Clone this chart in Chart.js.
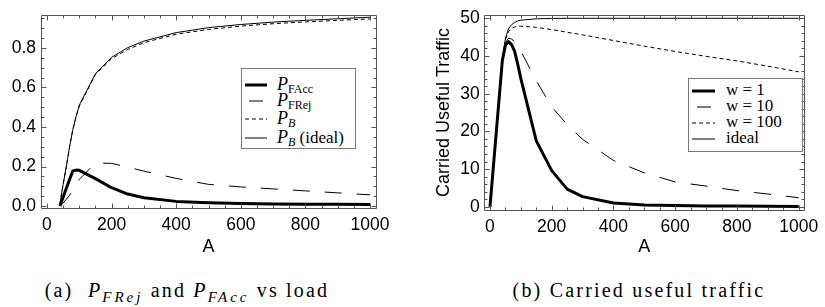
<!DOCTYPE html>
<html><head><meta charset="utf-8">
<script src="https://cdn.jsdelivr.net/npm/chart.js@4/dist/chart.umd.min.js"></script>
<style>
html,body{margin:0;padding:0;background:#fff;width:825px;height:307px;overflow:hidden;}
canvas{position:absolute;top:0;}
.legend{position:absolute;border:1.5px solid #7a7a7a;background:#fff;box-sizing:border-box;font-family:"Liberation Serif",serif;color:#000;}
.row{position:absolute;left:0;height:16px;width:110px;}
.row svg{position:absolute;top:5px;}
.row .lab{position:absolute;top:-1px;font-size:17px;line-height:16px;white-space:nowrap;}
.row .lab i.P{font-size:18px;}
.row .lab sub{font-size:12px;vertical-align:-3px;line-height:0;}
.cap{position:absolute;top:277px;font-family:"Liberation Serif",serif;font-size:20px;line-height:26px;white-space:nowrap;color:#000;text-align:center;letter-spacing:2.2px;}
.cap sub{font-size:15px;vertical-align:-5px;line-height:0;letter-spacing:3px;}
</style></head>
<body>
<canvas id="c1" width="412" height="262" style="left:0"></canvas>
<canvas id="c2" width="413" height="262" style="left:412px"></canvas>

<div class="legend" style="left:241px;top:68px;width:115px;height:81px;">
  <div class="row" style="top:8px"><svg width="24" height="6" style="left:3px"><line x1="0" y1="3" x2="22" y2="3" stroke="#000" stroke-width="3"/></svg><span class="lab" style="left:35px"><i class="P">P</i><sub>FAcc</sub></span></div>
  <div class="row" style="top:24px"><svg width="24" height="6" style="left:3px"><line x1="4" y1="3" x2="18" y2="3" stroke="#000" stroke-width="1"/></svg><span class="lab" style="left:35px"><i class="P">P</i><sub>FRej</sub></span></div>
  <div class="row" style="top:42px"><svg width="24" height="6" style="left:3px"><line x1="0" y1="3" x2="22" y2="3" stroke="#000" stroke-width="1" stroke-dasharray="4,3"/></svg><span class="lab" style="left:35px"><i class="P">P</i><sub><i>B</i></sub></span></div>
  <div class="row" style="top:61px"><svg width="24" height="6" style="left:3px"><line x1="0" y1="3" x2="22" y2="3" stroke="#000" stroke-width="1"/></svg><span class="lab" style="left:35px"><i class="P">P</i><sub><i>B</i></sub> (ideal)</span></div>
</div>

<div class="legend" style="left:688px;top:78px;width:115px;height:74px;">
  <div class="row" style="top:4px"><svg width="24" height="6" style="left:3px"><line x1="0" y1="3" x2="23" y2="3" stroke="#000" stroke-width="3"/></svg><span class="lab" style="left:37px">w = 1</span></div>
  <div class="row" style="top:20px"><svg width="24" height="6" style="left:3px"><line x1="5" y1="3" x2="19" y2="3" stroke="#000" stroke-width="1"/></svg><span class="lab" style="left:37px">w = 10</span></div>
  <div class="row" style="top:36px"><svg width="24" height="6" style="left:3px"><line x1="0" y1="3" x2="23" y2="3" stroke="#000" stroke-width="1" stroke-dasharray="4,3"/></svg><span class="lab" style="left:37px">w = 100</span></div>
  <div class="row" style="top:52px"><svg width="24" height="6" style="left:3px"><line x1="0" y1="3" x2="23" y2="3" stroke="#000" stroke-width="1"/></svg><span class="lab" style="left:37px">ideal</span></div>
</div>

<div class="cap" style="left:0;width:374px;">(a)&nbsp; <i>P</i><sub><i>FRej</i></sub> and <i>P</i><sub><i>FAcc</i></sub> vs load</div>
<div class="cap" style="left:508px;width:262px;">(b) Carried useful traffic</div>

<script>
// ---- data ----
const loadLeft = [40, 50, 60, 70, 80, 90, 100, 150, 200, 250, 300, 400, 500, 600, 700, 800, 900, 1000];
const pFAcc   = [0.0, 0.045, 0.09, 0.135, 0.178, 0.182, 0.181, 0.139, 0.093, 0.061, 0.042, 0.024, 0.017, 0.013, 0.011, 0.010, 0.009, 0.008];
const pFRej   = [0.0, 0.015, 0.035, 0.055, 0.08, 0.105, 0.135, 0.218, 0.216, 0.197, 0.177, 0.140, 0.110, 0.097, 0.087, 0.077, 0.067, 0.057];
const pB      = [0.01, 0.11, 0.20, 0.30, 0.385, 0.45, 0.505, 0.665, 0.745, 0.792, 0.826, 0.869, 0.893, 0.910, 0.922, 0.931, 0.939, 0.946];
const pBIdeal = [0.01, 0.11, 0.20, 0.30, 0.387, 0.453, 0.51, 0.669, 0.752, 0.801, 0.834, 0.877, 0.902, 0.918, 0.930, 0.939, 0.947, 0.955];

const loadRight = [0, 40, 50, 60, 70, 80, 90, 100, 150, 200, 250, 300, 400, 500, 600, 700, 800, 900, 1000];
const trafW1    = [0, 38.8, 42.8, 43.8, 43.0, 41.2, 37.8, 34.0, 17.5, 9.6, 4.7, 2.7, 1.0, 0.5, 0.35, 0.25, 0.2, 0.15, 0.1];
const trafW10   = [0, 39.0, 43.6, 44.7, 44.5, 43.8, 42.7, 41.3, 33.4, 26.5, 21.8, 17.9, 12.3, 9.0, 6.6, 5.5, 4.3, 3.4, 2.4];
const trafW100  = [0, 39.1, 44.3, 46.5, 47.3, 47.7, 47.9, 47.9, 47.6, 47.0, 46.3, 45.6, 44.1, 42.6, 41.2, 39.9, 38.7, 37.3, 35.8];
const trafIdeal = [0, 39.2, 44.6, 47.2, 48.3, 48.9, 49.3, 49.5, 49.85, 49.95, 50, 50, 50, 50, 50, 50, 50, 50, 50];

const xTickLabels = [0, 200, 400, 600, 800, 1000];
const yTickLabelsLeft = [0, 0.2, 0.4, 0.6, 0.8];
const yTickLabelsRight = [0, 10, 20, 30, 40, 50];

// ---- helpers ----
const pts = (xs, ys) => xs.map((x, i) => ({x: x, y: ys[i]}));
Chart.defaults.font.family = '"Liberation Sans", Arial, sans-serif';
Chart.defaults.color = '#000';

const framePlugin = {
  id: 'frame',
  afterDatasetsDraw(chart, args, o) {
    const {ctx, chartArea: a, scales: {x, y}} = chart;
    ctx.save();
    ctx.strokeStyle = o.color;
    ctx.lineWidth = 1;
    const L = Math.round(a.left) + 0.5, R = Math.round(a.right) - 0.5;
    const T = Math.round(a.top) + 0.5, B = Math.round(a.bottom) - 0.5;
    ctx.beginPath();
    ctx.rect(L, T, R - L, B - T);
    for (let k = 0; k <= o.xCount; k++) {
      const p = Math.round(x.getPixelForValue(o.x0 + k * o.xStep)) + 0.5;
      const len = (k % o.xPer === 0) ? o.major : o.minor;
      ctx.moveTo(p, B); ctx.lineTo(p, B - len);
      ctx.moveTo(p, T); ctx.lineTo(p, T + len);
    }
    for (let k = 0; k <= o.yCount; k++) {
      const p = Math.round(y.getPixelForValue(o.y0 + k * o.yStep)) + 0.5;
      const len = (k % o.yPer === 0) ? o.major : o.minor;
      ctx.moveTo(L, p); ctx.lineTo(L + len, p);
      ctx.moveTo(R, p); ctx.lineTo(R - len, p);
    }
    ctx.stroke();
    ctx.restore();
  }
};

const tickFont = {family: '"Liberation Sans", Arial, sans-serif', size: 17.5};
const titleFont = {family: '"Liberation Sans", Arial, sans-serif', size: 18};

function lineDs(label, data, width, dash) {
  return {label, data, borderColor: '#000', backgroundColor: '#000', borderWidth: width,
          borderDash: dash || [], pointRadius: 0, tension: 0, fill: false,
          borderJoinStyle: 'round', borderCapStyle: 'butt'};
}

function baseOptions(cfg) {
  return {
    responsive: false, animation: false, devicePixelRatio: 1,
    layout: {padding: cfg.padding},
    plugins: {legend: {display: false}, tooltip: {enabled: false}, frame: cfg.frame},
    scales: {
      x: {
        type: 'linear', min: -20, max: 1020,
        afterBuildTicks: s => { s.ticks = xTickLabels.map(v => ({value: v})); },
        afterFit: s => { s.height = cfg.xHeight; },
        grid: {display: false, drawTicks: false}, border: {display: false},
        ticks: {font: tickFont, color: '#000', padding: 6.5, maxRotation: 0, autoSkip: false,
                callback: v => String(v)},
        title: {display: true, text: 'A', font: titleFont, color: '#000', padding: {top: 0, bottom: 4.2}}
      },
      y: {
        type: 'linear', min: cfg.yMin, max: cfg.yMax,
        afterBuildTicks: s => { s.ticks = cfg.yTicks.map(v => ({value: v})); },
        afterFit: s => { s.width = cfg.yWidth; },
        grid: {display: false, drawTicks: false}, border: {display: false},
        ticks: {font: tickFont, color: '#000', padding: cfg.yPad, autoSkip: false, callback: cfg.yFmt},
        title: cfg.yTitle
      }
    }
  };
}

new Chart(document.getElementById('c1'), {
  type: 'line',
  data: {datasets: [
    lineDs('P_FAcc', pts(loadLeft, pFAcc), 3),
    lineDs('P_FRej', pts(loadLeft, pFRej), 1, [17, 15]),
    lineDs('P_B', pts(loadLeft, pB), 1, [4, 3]),
    lineDs('P_B (ideal)', pts(loadLeft, pBIdeal), 1)
  ]},
  options: baseOptions({
    padding: {left: 0, top: 3, right: 35.5, bottom: 0},
    xHeight: 53.5, yWidth: 40.5, yPad: 4.5,
    yMin: -0.012, yMax: 0.966, yTicks: yTickLabelsLeft,
    yFmt: v => v.toFixed(1),
    yTitle: {display: false},
    frame: {color: '#555', major: 5, minor: 3, x0: 0, xStep: 50, xCount: 20, xPer: 4,
            y0: 0, yStep: 0.05, yCount: 19, yPer: 4}
  }),
  plugins: [framePlugin]
});

new Chart(document.getElementById('c2'), {
  type: 'line',
  data: {datasets: [
    lineDs('w = 1', pts(loadRight, trafW1), 3),
    lineDs('w = 10', pts(loadRight, trafW10), 1, [17, 15]),
    lineDs('w = 100', pts(loadRight, trafW100), 1, [4, 3]),
    lineDs('ideal', pts(loadRight, trafIdeal), 1)
  ]},
  options: baseOptions({
    padding: {left: 0, top: 8.8, right: 16.5, bottom: 0},
    xHeight: 51.4, yWidth: 71.8, yPad: 4,
    yMin: -1, yMax: 51, yTicks: yTickLabelsRight,
    yFmt: v => String(v),
    yTitle: {display: true, text: 'Carried Useful Traffic', font: titleFont, color: '#000', padding: {top: 21.7, bottom: 0}},
    frame: {color: '#555', major: 5, minor: 3, x0: 0, xStep: 50, xCount: 20, xPer: 4,
            y0: 0, yStep: 2, yCount: 25, yPer: 5}
  }),
  plugins: [framePlugin]
});
</script>
</body></html>
